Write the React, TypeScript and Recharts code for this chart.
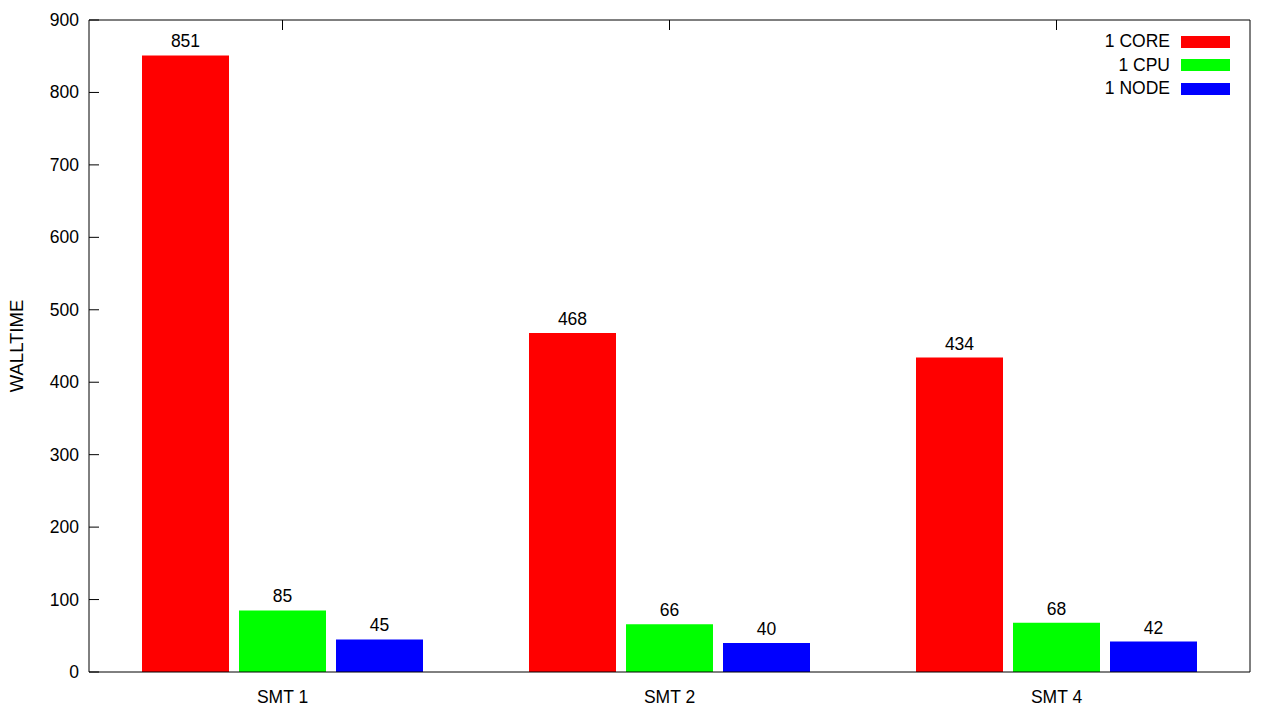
import React from 'react';
import { BarChart, Bar, XAxis, YAxis, Legend, LabelList } from 'recharts';

// values
const categories = ['SMT 1', 'SMT 2', 'SMT 4'];
const coreTimes = [851, 468, 434];
const cpuTimes = [85, 66, 68];
const nodeTimes = [45, 40, 42];
const yTicks = [0, 100, 200, 300, 400, 500, 600, 700, 800, 900];

const data = categories.map((name, i) => ({
  name,
  core: coreTimes[i],
  cpu: cpuTimes[i],
  node: nodeTimes[i],
}));

const FONT = '"Liberation Sans", Arial, Helvetica, sans-serif';
const FS = 17.5;
const TICK_LEN = 10;

// left axis: inward tick + label
const LeftTick = (props: any) => {
  const { x, y, payload } = props;
  return (
    <g>
      <line x1={x} y1={y} x2={x + TICK_LEN} y2={y} stroke="#000" />
      <text x={x - 10} y={y} textAnchor="end" dominantBaseline="central" fontSize={FS} fontFamily={FONT} fill="#000">
        {payload.value}
      </text>
    </g>
  );
};

// right axis mirror ticks only
const RightTick = (props: any) => {
  const { x, y } = props;
  return <line x1={x - TICK_LEN} y1={y} x2={x} y2={y} stroke="#000" />;
};

const TopTick = (props: any) => {
  const { x, y } = props;
  return <line x1={x} y1={y} x2={x} y2={y + TICK_LEN} stroke="#000" />;
};

const BottomTick = (props: any) => {
  const { x, y, payload } = props;
  return (
    <text x={x} y={y + 25} textAnchor="middle" dominantBaseline="central" fontSize={FS} fontFamily={FONT} fill="#000">
      {payload.value}
    </text>
  );
};

const KeyBox = (props: any) => {
  const { payload } = props;
  return (
    <div style={{ fontFamily: FONT, fontSize: FS, color: '#000' }}>
      {(payload || []).map((item: any) => (
        <div key={item.value} style={{ display: 'flex', alignItems: 'center', justifyContent: 'flex-end', height: 23.5 }}>
          <span style={{ marginRight: 11 }}>{item.value}</span>
          <span style={{ display: 'inline-block', width: 49, height: 12, background: item.color }} />
        </div>
      ))}
    </div>
  );
};

const App: React.FC = () => (
  <div style={{ position: 'absolute', left: 0, top: 0, width: 1280, height: 720, background: '#fff' }}>
    <BarChart
      width={1280}
      height={720}
      data={data}
      margin={{ top: 0, right: 0, bottom: 0, left: 0 }}
      barCategoryGap={53}
      barGap={10}
    >
      <XAxis
        dataKey="name"
        xAxisId="bottom"
        orientation="bottom"
        height={48}
        stroke="#000"
        tickLine={false}
        tickSize={0}
        tickMargin={0}
        tick={<BottomTick />}
        interval={0}
      />
      <XAxis
        dataKey="name"
        xAxisId="top"
        orientation="top"
        height={20}
        stroke="#000"
        tickLine={false}
        tickSize={0}
        tickMargin={0}
        tick={<TopTick />}
        interval={0}
      />
      <YAxis
        yAxisId="left"
        orientation="left"
        width={89}
        domain={[0, 900]}
        ticks={yTicks}
        stroke="#000"
        tickLine={false}
        tickSize={0}
        tickMargin={0}
        tick={<LeftTick />}
        interval={0}
        label={{ value: 'WALLTIME', angle: -90, position: 'insideLeft', offset: 16, style: { fontFamily: FONT, fontSize: 18.5, fill: '#000', textAnchor: 'middle' } }}
      />
      <YAxis
        yAxisId="right"
        orientation="right"
        width={30}
        domain={[0, 900]}
        ticks={yTicks}
        stroke="#000"
        tickLine={false}
        tickSize={0}
        tickMargin={0}
        tick={<RightTick />}
        interval={0}
      />
      <Legend
        verticalAlign="middle"
        align="center"
        layout="horizontal"
        content={<KeyBox />}
        wrapperStyle={{ top: 30, right: 50, left: 'auto', width: 'auto' }}
      />
      <Bar dataKey="core" name="1 CORE" xAxisId="bottom" yAxisId="left" fill="#ff0000" isAnimationActive={false}>
        <LabelList dataKey="core" position="top" offset={8} style={{ fontFamily: FONT, fontSize: FS, fill: '#000' }} />
      </Bar>
      <Bar dataKey="cpu" name="1 CPU" xAxisId="bottom" yAxisId="left" fill="#00ff00" isAnimationActive={false}>
        <LabelList dataKey="cpu" position="top" offset={8} style={{ fontFamily: FONT, fontSize: FS, fill: '#000' }} />
      </Bar>
      <Bar dataKey="node" name="1 NODE" xAxisId="bottom" yAxisId="left" fill="#0000ff" isAnimationActive={false}>
        <LabelList dataKey="node" position="top" offset={8} style={{ fontFamily: FONT, fontSize: FS, fill: '#000' }} />
      </Bar>
    </BarChart>
  </div>
);

export default App;
